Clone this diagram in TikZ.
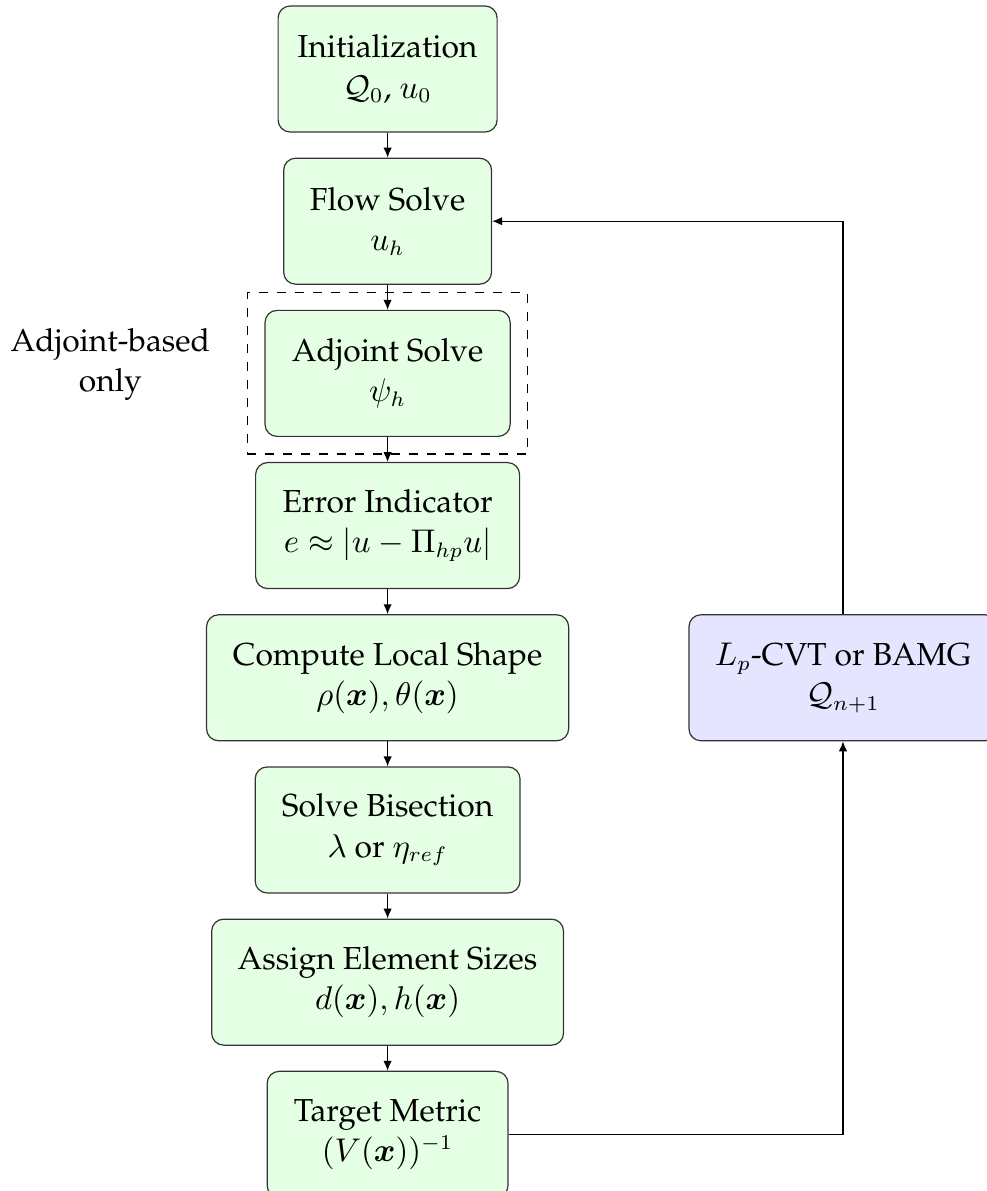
\documentclass[tikz,border=0pt]{standalone}
\usepackage[T1]{fontenc}
\usepackage{palatino}
\usepackage{amssymb}
\usepackage{amsmath}
\usepackage{bm}
\usepackage{tikz}
\usetikzlibrary{shapes,arrows.meta,positioning,fit}
\usepackage{xcolor}

\begin{document}
\begin{tikzpicture}
      [node distance=8.33pt,
      stepbox/.style={draw=black!80, rectangle, rounded corners, align=center, minimum height=42pt, fill=green!10, font=\fontsize{10.6}{13.4}\selectfont},
      meshbox/.style={stepbox, fill=blue!10},
      flowarrow/.style={draw, -{Latex[length=3.3pt,width=2.8pt]}},
      ]
      \useasboundingbox (0,0) rectangle (329pt,-397pt);

      % main chain
      \node[stepbox, minimum width=73pt] (init) at (129.2pt,-23pt) {Initialization\\ $\mathcal{Q}_0$, $u_0$};
      \node[stepbox, minimum width=69.3pt, below=of init] (flow) {Flow Solve\\ $u_h$};
      \node[stepbox, minimum width=81.7pt, below=of flow] (adjoint) {Adjoint Solve\\ $\psi_h$};
      \node[stepbox, minimum width=88pt, below=of adjoint] (error) {Error Indicator\\ $e \approx |u - \Pi_{hp} u|$};
      \node[stepbox, minimum width=120.7pt, below=of error] (shape) {Compute Local Shape\\ $\rho(\boldsymbol{x}), \theta(\boldsymbol{x})$};
      \node[stepbox, minimum width=88.3pt, below=of shape] (bisect) {Solve Bisection\\ $\lambda$ or $\eta_{ref}$};
      \node[stepbox, minimum width=117.3pt, below=of bisect] (sizes) {Assign Element Sizes\\ $d(\boldsymbol{x}), h(\boldsymbol{x})$};
      \node[stepbox, minimum width=80.3pt, below=of sizes] (metric) {Target Metric\\ $(V(\boldsymbol{x}))^{-1}$};

      % mesher
      \node[meshbox, minimum width=102.7pt, right=39.7pt of shape] (mesh) {$L_p$-CVT or BAMG\\ $\mathcal{Q}_{n+1}$};

      % adjoint frame
      \node[draw, dashed, fit=(adjoint), inner sep=5.7pt] (adjframe) {};
      \node[left=8.7pt of adjframe, yshift=3pt, align=center, font=\fontsize{10.6}{13.4}\selectfont] (adjlabel) {Adjoint-based\\ only};

      \draw[flowarrow] (init) -- (flow);
      \draw[flowarrow] (flow) -- (adjoint);
      \draw[flowarrow] (adjoint) -- (error);
      \draw[flowarrow] (error) -- (shape);
      \draw[flowarrow] (shape) -- (bisect);
      \draw[flowarrow] (bisect) -- (sizes);
      \draw[flowarrow] (sizes) -- (metric);
      \draw[flowarrow] (metric.east) -| (mesh.south);
      \draw[flowarrow] (mesh.north) |- (flow.east);
    \end{tikzpicture}
\end{document}
